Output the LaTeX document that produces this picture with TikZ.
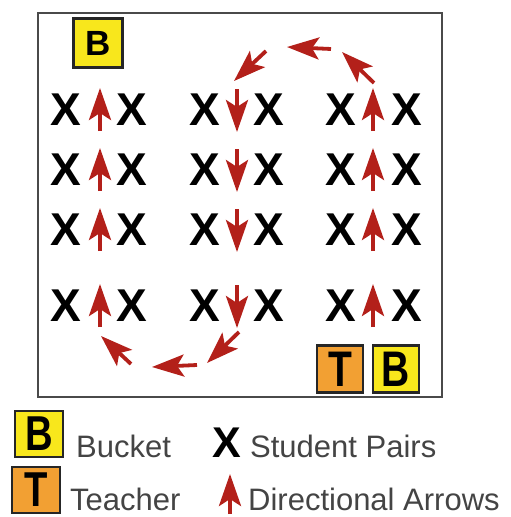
\documentclass[tikz,border=0pt]{standalone}
\usepackage{fontspec}
\setmainfont{Liberation Sans}
\newfontfamily\boxfont[FakeStretch=0.78]{Liberation Sans Bold}
\newfontfamily\smallboxfont{Liberation Sans Bold}
\usetikzlibrary{arrows.meta}
\definecolor{arrowred}{HTML}{B3201A}
\definecolor{bucketyellow}{HTML}{F8E71C}
\definecolor{teacherorange}{HTML}{F2A033}
\definecolor{framegray}{HTML}{4A4A4A}
\definecolor{legendgray}{HTML}{444444}
\begin{document}
\begin{tikzpicture}[x=1pt,y=-1pt,
  pair/.style={font=\bfseries\fontsize{46}{46}\selectfont, inner sep=0pt},
  redarr/.style={draw=arrowred, line width=3.8pt,
    -{Stealth[length=32pt,width=22pt,inset=7pt]}},
  markbox/.style={draw=black!85, line width=2.5pt, inner sep=0pt,
    minimum width=46pt, minimum height=47pt},
  bucket/.style={markbox, fill=bucketyellow},
  teacher/.style={markbox, fill=teacherorange},
  legendtext/.style={anchor=base west, inner sep=0pt, text=legendgray,
    font=\fontsize{31}{31}\selectfont}
]
\useasboundingbox (0,0) rectangle (511,517);

% frame
\draw[framegray, line width=2.8pt] (38,13) rectangle (442,397);

% bucket top-left
\node[bucket, minimum width=49pt, minimum height=49pt,
  font=\smallboxfont\fontsize{35}{35}\selectfont] (b1) at (98,43) {B};

% teacher and bucket bottom-right
\node[teacher, font=\boxfont\fontsize{50}{50}\selectfont] (t1) at (340,369) {T};
\node[bucket, font=\boxfont\fontsize{50}{50}\selectfont] (b2) at (396,369) {B};

% student pairs
\foreach \r/\y in {1/110,2/170,3/230,4/306}{
  \node[pair] (l1\r) at (66,\y) {X};
  \node[pair] (l2\r) at (132,\y) {X};
  \node[pair] (m1\r) at (205,\y) {X};
  \node[pair] (m2\r) at (269,\y) {X};
  \node[pair] (r1\r) at (341,\y) {X};
  \node[pair] (r2\r) at (407,\y) {X};
  % direction arrows in the aisles
  \coordinate (la\r) at (100,\y+21);
  \coordinate (lb\r) at (100,\y-22);
  \coordinate (ma\r) at (237,\y-21);
  \coordinate (mb\r) at (237,\y+22);
  \coordinate (ra\r) at (373,\y+21);
  \coordinate (rb\r) at (373,\y-22);
  \draw[redarr] (la\r) -- (lb\r);
  \draw[redarr] (ma\r) -- (mb\r);
  \draw[redarr] (ra\r) -- (rb\r);
}

% top arc
\coordinate (ta1) at (374,83);  \coordinate (tb1) at (342,52);
\coordinate (ta2) at (331,49);  \coordinate (tb2) at (287,47);
\coordinate (ta3) at (266,51);  \coordinate (tb3) at (234,81);
\draw[redarr] (ta1) -- (tb1);
\draw[redarr] (ta2) -- (tb2);
\draw[redarr] (ta3) -- (tb3);

% bottom arc
\coordinate (ba1) at (239,332); \coordinate (bb1) at (207,363);
\coordinate (ba2) at (197,365); \coordinate (bb2) at (152,367);
\coordinate (ba3) at (131,364); \coordinate (bb3) at (101,336);
\draw[redarr] (ba1) -- (bb1);
\draw[redarr] (ba2) -- (bb2);
\draw[redarr] (ba3) -- (bb3);

% legend
\node[bucket, minimum width=48pt, minimum height=46pt,
  font=\boxfont\fontsize{49}{49}\selectfont] (lgb) at (39,434) {B};
\node[legendtext] (lgbt) at (76,457) {Bucket};
\node[teacher, minimum width=48pt, minimum height=46pt,
  font=\boxfont\fontsize{49}{49}\selectfont] (lgt) at (36,490) {T};
\node[legendtext] (lgtt) at (70,510) {Teacher};
\node[pair, anchor=base, font=\bfseries\fontsize{43}{43}\selectfont] (lgx) at (227,457) {X};
\node[legendtext] (lgxt) at (250,457) {Student Pairs};
\coordinate (lga) at (230,514);
\coordinate (lgb2) at (230,474);
\draw[redarr] (lga) -- (lgb2);
\node[legendtext] (lgat) at (248,510) {Directional Arrows};
\end{tikzpicture}
\end{document}
